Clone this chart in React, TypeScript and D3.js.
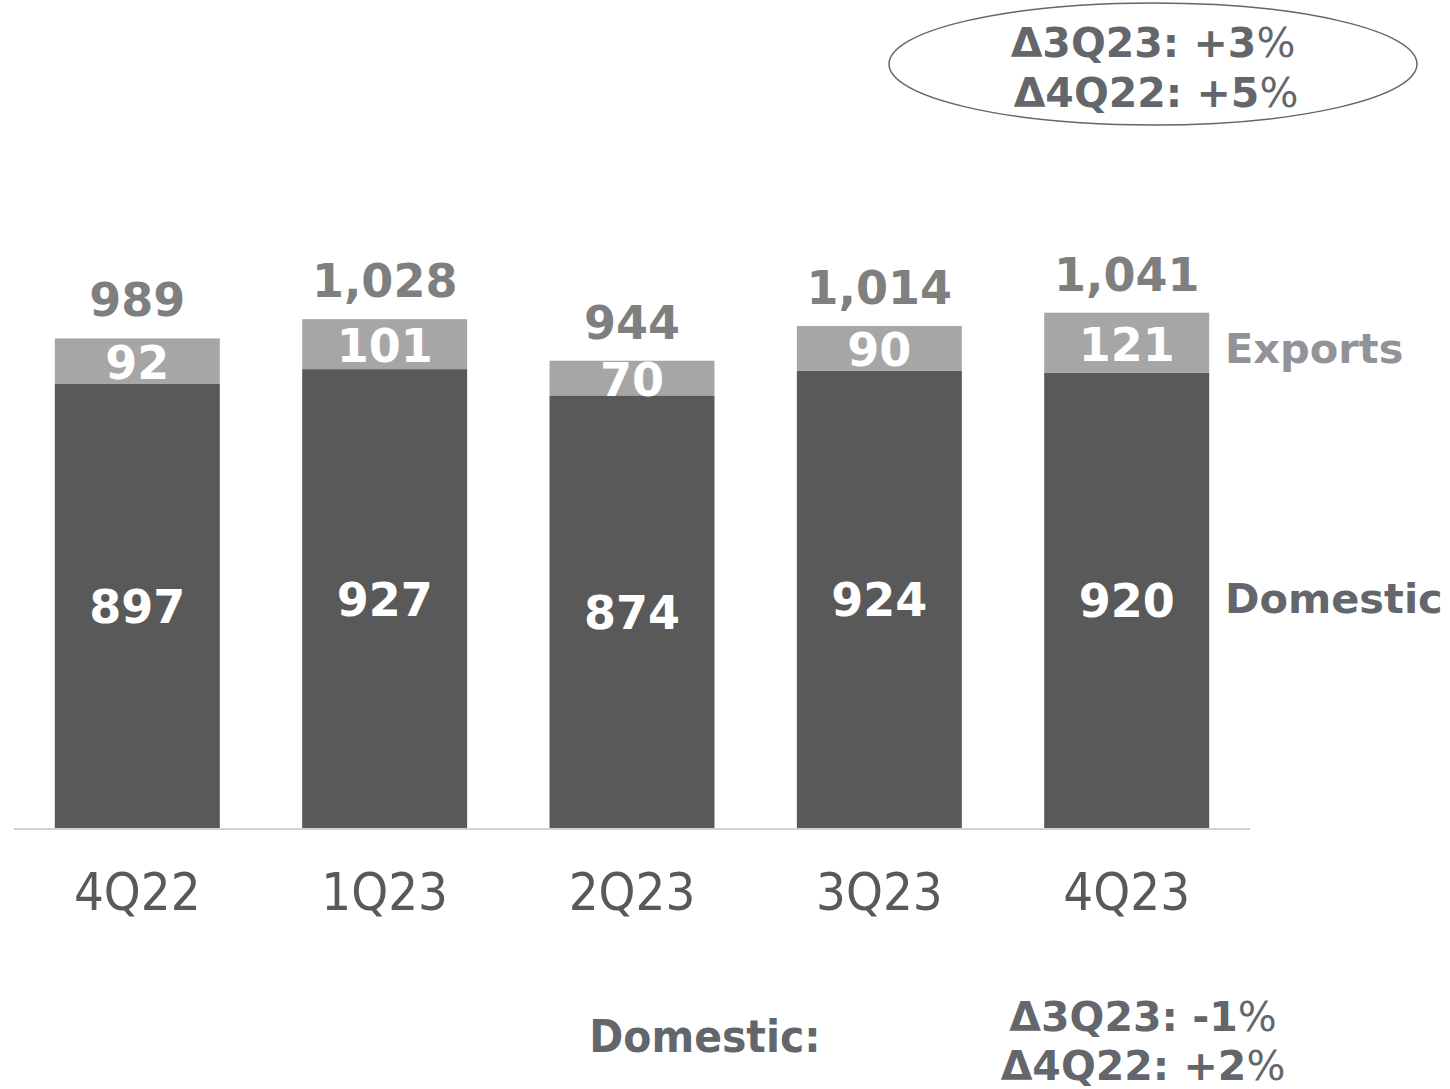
import React from "react";
import * as d3 from "d3";

const categories = ["4Q22", "1Q23", "2Q23", "3Q23", "4Q23"];
const domestic = [897, 927, 874, 924, 920];
const exportsVals = [92, 101, 70, 90, 121];
const totals = ["989", "1,028", "944", "1,014", "1,041"];
const seriesNames = ["Domestic", "Exports"];
const topNote = ["Δ3Q23: +3", "Δ4Q22: +5"];
const bottomTitle = "Domestic:";
const bottomNote = ["Δ3Q23: -1", "Δ4Q22: +2"];

const W = 1450;
const H = 1089;
const FONT = "'DejaVu Sans', Verdana, sans-serif";

export default function App() {
  const x = d3
    .scaleBand<string>()
    .domain(categories)
    .range([14, 1250])
    .paddingInner(0.333)
    .paddingOuter(0.165);
  const y = d3.scaleLinear().domain([0, 1000]).range([828, 333]);
  const bw = x.bandwidth();

  return (
    <svg
      width={W}
      height={H}
      style={{ position: "absolute", left: 0, top: 0, background: "#fff" }}
      fontFamily={FONT}
    >
      {categories.map((c, i) => {
        const x0 = x(c) as number;
        const cx = x0 + bw / 2;
        const d = domestic[i];
        const e = exportsVals[i];
        const yD = y(d);
        const yT = y(d + e);
        return (
          <g key={c}>
            <rect x={x0} y={yD} width={bw} height={y(0) - yD} fill="#595959" />
            <rect x={x0} y={yT} width={bw} height={yD - yT} fill="#a6a6a6" />
            <text
              x={cx}
              y={(y(0) + yD) / 2 + 17}
              textAnchor="middle"
              fontSize={46}
              fontWeight="bold"
              fill="#ffffff"
            >
              {d}
            </text>
            <text
              x={cx}
              y={(yD + yT) / 2 + 18}
              textAnchor="middle"
              fontSize={46}
              fontWeight="bold"
              fill="#ffffff"
            >
              {e}
            </text>
            <text
              x={cx}
              y={yT - 22}
              textAnchor="middle"
              fontSize={46}
              fontWeight="bold"
              fill="#7f7f7f"
            >
              {totals[i]}
            </text>
            <text
              transform={`translate(${cx},910) scale(1,1.08)`}
              textAnchor="middle"
              fontSize={47}
              fill="#595959"
            >
              {c}
            </text>
          </g>
        );
      })}
      <line x1={14} x2={1250} y1={829} y2={829} stroke="#d0d0d0" strokeWidth={2} />

      {/* series labels */}
      <text x={1225} y={613} fontSize={41.5} fontWeight="bold" fill="#63666a">
        {seriesNames[0]}
      </text>
      <text x={1225} y={363} fontSize={41.5} fontWeight="bold" fill="#919398">
        {seriesNames[1]}
      </text>

      {/* top ellipse annotation */}
      <ellipse cx={1153} cy={64} rx={264} ry={61} fill="none" stroke="#63666a" strokeWidth={1.5} />
      {topNote.map((t, i) => (
        <text
          key={t}
          x={1153 + i * 3}
          y={57 + i * 50}
          textAnchor="middle"
          fontSize={41}
          fontWeight="bold"
          fill="#63666a"
        >
          {t}
          <tspan fontWeight="normal">%</tspan>
        </text>
      ))}

      {/* bottom annotation */}
      <text
        transform="translate(705,1052) scale(1,1.08)"
        textAnchor="middle"
        fontSize={41}
        fontWeight="bold"
        fill="#63666a"
      >
        {bottomTitle}
      </text>
      {bottomNote.map((t, i) => (
        <text
          key={t}
          x={1143}
          y={1031 + i * 49}
          textAnchor="middle"
          fontSize={41}
          fontWeight="bold"
          fill="#63666a"
        >
          {t}
          <tspan fontWeight="normal">%</tspan>
        </text>
      ))}
    </svg>
  );
}
